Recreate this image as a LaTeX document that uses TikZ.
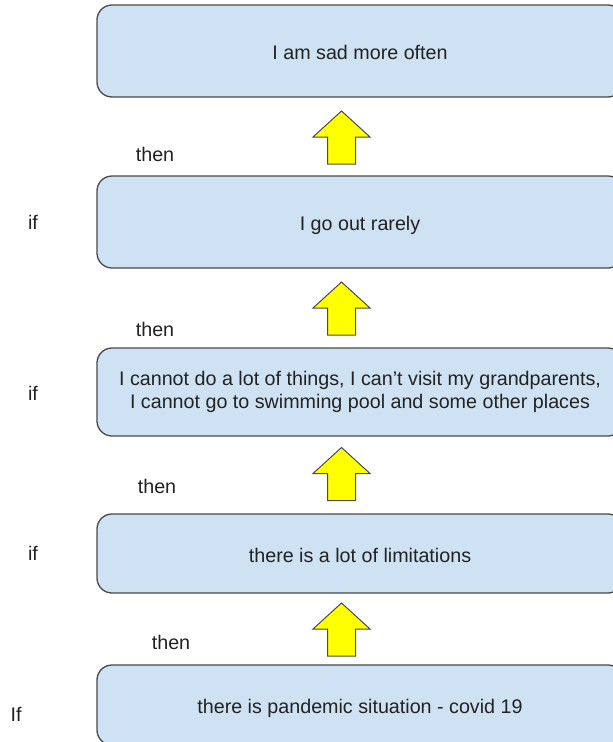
\documentclass[tikz,border=0pt]{standalone}
\usepackage{fontspec}
\setmainfont{Liberation Sans}
\begin{document}
\begin{tikzpicture}[x=1pt,y=-1pt,
  box/.style={draw=boxline, line width=1.3pt, fill=boxfill, rounded corners=15pt,
    minimum width=526pt, inner sep=0pt, align=center, text=txt,
    font=\fontsize{19.7}{22.5}\selectfont},
  oneline/.style={text height=17.6pt, text depth=0pt},
  lbl/.style={inner sep=0pt, text=txt, font=\fontsize{19.7}{22.5}\selectfont},
  uparrow/.pic={
    \draw[draw=boxline, line width=1pt, fill=yellow, line join=miter]
      (0,0) -- (28.5,26) -- (14,26) -- (14,53) -- (-14,53) -- (-14,26) -- (-28.5,26) -- cycle;
  }]
\definecolor{boxfill}{HTML}{CFE2F3}
\definecolor{boxline}{HTML}{4A4A4A}
\definecolor{txt}{HTML}{222222}
\definecolor{yellow}{HTML}{FFFF00}
\useasboundingbox (0,0) rectangle (613,742);
\clip (0,0) rectangle (613,742);
\fill[white] (0,0) rectangle (613,742);

% chain of statements, bottom to top
\node[box, oneline, minimum height=92pt] (sad)    at (360,51)  {I am sad more often};
\node[box, oneline, minimum height=92pt] (out)    at (360,222) {I go out rarely};
\node[box, minimum height=88pt] (cannot) at (360,392) {I cannot do a lot of things, I can’t visit my grandparents,\\I cannot go to swimming pool and some other places};
\node[box, oneline, minimum height=79pt] (limits) at (360,553.5) {there is a lot of limitations};
\node[box, oneline, minimum height=80pt] (covid)  at (360,705) {there is pandemic situation - covid 19};

% block arrows between the boxes
\pic at (341.5,111) {uparrow};
\pic at (341.5,282) {uparrow};
\pic at (341.5,447.5) {uparrow};
\pic at (341.5,603) {uparrow};

% if / then labels
\node[lbl] (then1) at (155,154) {then};
\node[lbl] (then2) at (155,329) {then};
\node[lbl] (then3) at (157,486) {then};
\node[lbl] (then4) at (171,642) {then};
\node[lbl] (if1) at (33,222) {if};
\node[lbl] (if2) at (33,393) {if};
\node[lbl] (if3) at (33,553) {if};
\node[lbl] (if4) at (16,714) {If};
\end{tikzpicture}
\end{document}
